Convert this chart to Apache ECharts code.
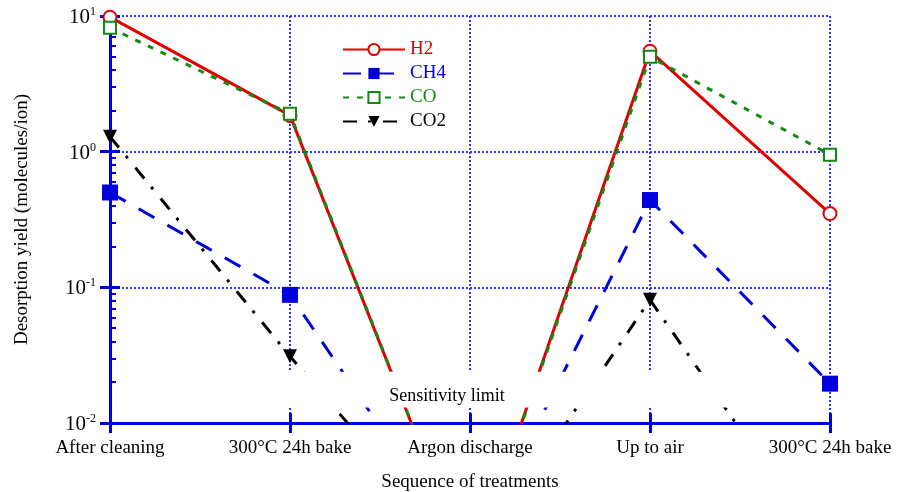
<!DOCTYPE html>
<html><head><meta charset="utf-8">
<script src="https://cdn.jsdelivr.net/npm/echarts@6/dist/echarts.min.js"></script>
<style>html,body{margin:0;padding:0;background:#fff}#c{width:901px;height:492px}</style>
</head><body><div id="c"></div>
<script>
// ---- data ----
const categories = ['After cleaning', '300°C 24h bake', 'Argon discharge', 'Up to air', '300°C 24h bake'];
const h2Values  = [9.8, 1.85, 0.0008, 5.5, 0.35];
const ch4Values = [0.5, 0.088, 0.001, 0.44, 0.0195];
const coValues  = [8.2, 1.9, 0.0008, 5.0, 0.95];
const co2Values = [1.29, 0.031, 0.0009, 0.081, 0.001];
const yMajorTicks = [0.01, 0.1, 1, 10];
const yMinorTicks = [0.02,0.03,0.04,0.05,0.06,0.07,0.08,0.09,0.2,0.3,0.4,0.5,0.6,0.7,0.8,0.9,2,3,4,5,6,7,8,9];
const sensitivityLabel = 'Sensitivity limit';

// ---- styling ----
const RED = '#e00000', BLUE = '#0000dd', GREEN = '#128a12', BLACK = '#000000';
const AXIS_BLUE = '#0000dd', GRID_BLUE = '#3030ff';
const SERIF = 'Liberation Serif, Times New Roman, serif';

const toPairs = arr => arr.map((v, i) => [i, v]);
const chart = echarts.init(document.getElementById('c'), null, {renderer: 'canvas'});

const gridLine = {show: true, lineStyle: {color: GRID_BLUE, width: 2, type: [2, 2]}};

const option = {
  animation: false,
  backgroundColor: '#fff',
  grid: {left: 110, right: 71, top: 16, bottom: 69, outerBoundsMode: 'none', containLabel: false},
  legend: {
    orient: 'vertical', left: 337, top: 35,
    itemWidth: 62, itemHeight: 14, itemGap: 5,
    textStyle: {fontFamily: SERIF, fontSize: 19},
    data: [
      {name: 'H2', textStyle: {color: RED}},
      {name: 'CH4', textStyle: {color: BLUE}},
      {name: 'CO', textStyle: {color: GREEN}},
      {name: 'CO2', textStyle: {color: BLACK}}
    ]
  },
  xAxis: [{
    type: 'value', min: 0, max: 4, interval: 1, position: 'bottom',
    name: 'Sequence of treatments', nameLocation: 'middle', nameGap: 50,
    nameTextStyle: {fontFamily: SERIF, fontSize: 19, color: '#000'},
    axisLine: {show: true, onZero: false, lineStyle: {color: AXIS_BLUE, width: 3}},
    axisTick: {show: true, inside: false, length: 10, lineStyle: {color: AXIS_BLUE, width: 3}},
    axisLabel: {margin: 16, fontFamily: SERIF, fontSize: 19, color: '#000',
      formatter: v => categories[v] || ''},
    splitLine: gridLine
  }, {
    type: 'value', min: 0, max: 4, interval: 1, position: 'bottom', offset: 0,
    axisLine: {show: false, onZero: false},
    axisTick: {show: true, inside: true, length: 10, lineStyle: {color: AXIS_BLUE, width: 3}},
    axisLabel: {show: false}, splitLine: {show: false}
  }],
  yAxis: [{
    type: 'log', logBase: 10, min: 0.01, max: 10, position: 'left',
    name: 'Desorption yield (molecules/ion)', nameLocation: 'middle', nameGap: 78,
    nameTextStyle: {fontFamily: SERIF, fontSize: 19, color: '#000'},
    axisLine: {show: true, onZero: false, lineStyle: {color: AXIS_BLUE, width: 3}},
    axisTick: {show: true, inside: false, length: 10, lineStyle: {color: AXIS_BLUE, width: 3}},
    axisLabel: {
      margin: 14,
      formatter: v => '{b|10}{s|' + Math.round(Math.log10(v)) + '}',
      rich: {
        b: {fontFamily: SERIF, fontSize: 21, color: '#000', padding: [3, 0, 0, 0]},
        s: {fontFamily: SERIF, fontSize: 12, color: '#000', padding: [0, 0, 8, 0]}
      }
    },
    splitLine: gridLine
  }, {
    type: 'value', min: -2, max: 1, position: 'left', offset: 0,
    axisLine: {show: false, onZero: false},
    axisTick: {show: true, inside: true, length: 10, customValues: yMajorTicks.map(Math.log10),
      lineStyle: {color: AXIS_BLUE, width: 3}},
    axisLabel: {show: false}, splitLine: {show: false}
  }, {
    type: 'value', min: -2, max: 1, position: 'left', offset: 0,
    axisLine: {show: false, onZero: false},
    axisTick: {show: true, inside: true, length: 6, customValues: yMinorTicks.map(Math.log10),
      lineStyle: {color: AXIS_BLUE, width: 2}},
    axisLabel: {show: false}, splitLine: {show: false}
  }],
  series: [
    {name: 'H2', type: 'line', data: toPairs(h2Values), z: 3,
     symbol: 'emptyCircle', symbolSize: 13, color: RED,
     lineStyle: {color: RED, width: 3, type: 'solid'},
     itemStyle: {color: RED, borderWidth: 2}},
    {name: 'CH4', type: 'line', data: toPairs(ch4Values), z: 4,
     symbol: 'rect', symbolSize: 16, color: BLUE,
     lineStyle: {color: BLUE, width: 3, type: [18, 15]},
     itemStyle: {color: BLUE}},
    {name: 'CO', type: 'line', data: toPairs(coValues), z: 5,
     symbol: 'emptyRect', symbolSize: 12, color: GREEN,
     lineStyle: {color: GREEN, width: 3, type: [6, 8]},
     itemStyle: {color: GREEN, borderWidth: 2}},
    {name: 'CO2', type: 'line', data: toPairs(co2Values), z: 6,
     symbol: 'triangle', symbolRotate: 180, symbolSize: 14, color: BLACK,
     lineStyle: {color: BLACK, width: 3, type: [14, 11, 3, 12]},
     itemStyle: {color: BLACK}},
    {name: 'band', type: 'line', data: [], z: 20, silent: true,
     markArea: {
       z: 20, silent: true,
       itemStyle: {color: '#ffffff', opacity: 1},
       label: {show: true, position: 'inside', offset: [-50, 7], formatter: sensitivityLabel,
         fontFamily: SERIF, fontSize: 18, color: '#000'},
       data: [[{coord: [0.8, 0.0239]}, {coord: [3.5, 0.013]}]]
     }}
  ]
};
chart.setOption(option);
</script></body></html>
